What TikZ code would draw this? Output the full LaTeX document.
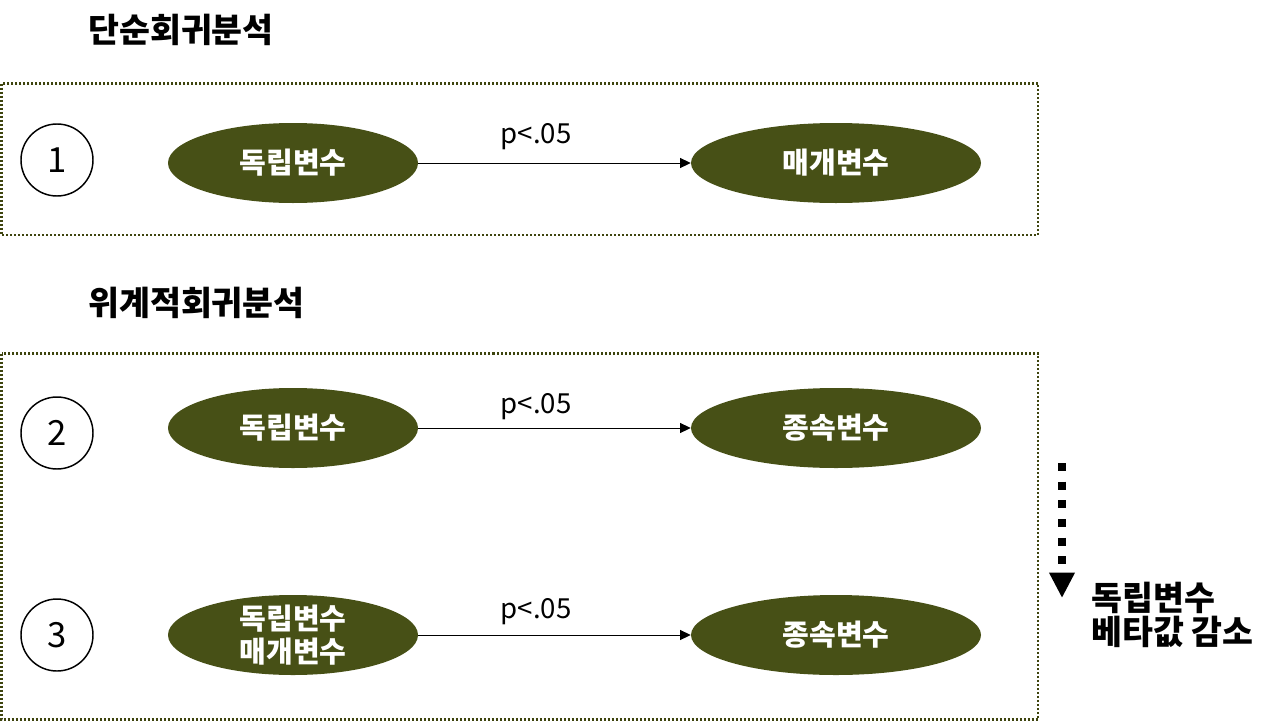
\documentclass[tikz,border=0pt]{standalone}
\usepackage{fontspec}
\setmainfont{Noto Sans CJK KR}
\usetikzlibrary{shapes.geometric,arrows.meta}
\definecolor{olive}{RGB}{71,80,22}
\definecolor{boxline}{RGB}{62,68,14}
\tikzset{
  frame/.style={draw=boxline,line width=1.6pt,dash pattern=on 1.5pt off 1.5pt},
  title/.style={anchor=west,inner sep=0,font=\fontsize{25.2}{30}\selectfont\bfseries},
  numc/.style={circle,draw=black,line width=1.1pt,minimum size=54pt,inner sep=0,font=\fontsize{26}{30}\selectfont},
  ell/.style={ellipse,fill=olive,inner sep=0,minimum height=60pt},
  lbl/.style={text=white,align=center,inner sep=0,font=\fontsize{21.8}{24.75}\selectfont\bfseries},
  conn/.style={line width=0.75pt,-{Triangle[length=8pt,width=7.5pt]}},
  plab/.style={inner sep=0,font=\fontsize{20.7}{24}\selectfont},
}
\begin{document}
\begin{tikzpicture}[x=0.75pt,y=-0.75pt]
\useasboundingbox (0,0) rectangle (1277,721);
% titles
\node[title] (t1) at (88,30) {단순회귀분석};
\node[title] (t2) at (88,303) {위계적회귀분석};
% frames
\draw[frame] (1.5,83.5) rectangle (1038,235);
\draw[frame] (1.5,353.5) rectangle (1038,719.5);
% row 1
\node[numc] (c1) at (57,160) {1};
\node[ell,minimum width=187.5pt,label={[lbl]center:독립변수}] (a1) at (293,163) {};
\node[ell,minimum width=217.5pt,label={[lbl]center:매개변수}] (b1) at (836,163) {};
\draw[conn] (a1.east) -- (b1.west);
\node[plab] (p1) at (536,137) {p<.05};
% row 2
\node[numc] (c2) at (57,433) {2};
\node[ell,minimum width=187.5pt,label={[lbl]center:독립변수}] (a2) at (293,428) {};
\node[ell,minimum width=217.5pt,label={[lbl]center:종속변수}] (b2) at (836,428) {};
\draw[conn] (a2.east) -- (b2.west);
\node[plab] (p2) at (536,407) {p<.05};
% row 3
\node[numc] (c3) at (57,635) {3};
\node[ell,minimum width=187.5pt,label={[lbl]center:독립변수\\매개변수}] (a3) at (293,635) {};
\node[ell,minimum width=217.5pt,label={[lbl]center:종속변수}] (b3) at (836,635) {};
\draw[conn] (a3.east) -- (b3.west);
\node[plab] (p3) at (536,612) {p<.05};
% beta decrease
\coordinate (s) at (1062,463);
\coordinate (e) at (1062,598);
\draw[line width=6pt,dash pattern=on 6pt off 8pt,-{Triangle[length=19pt,width=18pt]}] (s) -- (e);
\node[anchor=west,align=left,inner sep=0,font=\fontsize{25.2}{25.5}\selectfont\bfseries] (note) at (1091,615) {독립변수\\베타값 감소};
\end{tikzpicture}
\end{document}
